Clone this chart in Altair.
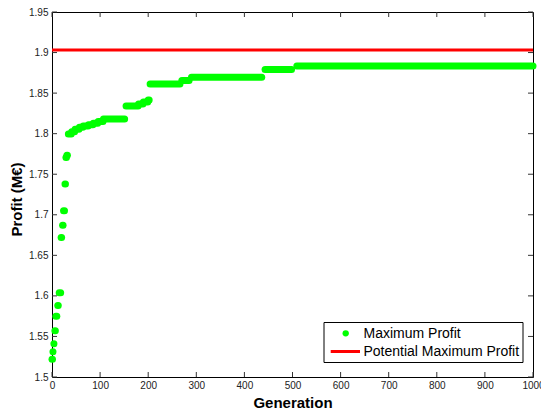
import altair as alt
import pandas as pd

# ---- data ----
# best-so-far profit, as runs of generations holding the same value
seg_start = [0, 2, 4, 6, 8, 12, 15, 19, 22, 24, 27, 29, 31,
             34, 41, 48, 57, 65, 76, 86, 96, 107,
             154, 180, 190, 200, 204, 270, 290, 443, 509]
seg_end = [1, 2, 4, 7, 10, 13, 18, 20, 23, 26, 28, 30, 32,
           40, 47, 56, 64, 75, 85, 95, 106, 151,
           179, 189, 199, 202, 266, 285, 436, 498, 1000]
seg_value = [1.522, 1.531, 1.541, 1.557, 1.575, 1.588, 1.604, 1.672, 1.687, 1.705, 1.738, 1.7705, 1.7735,
             1.7995, 1.8025, 1.8055, 1.808, 1.8095, 1.811, 1.8128, 1.815, 1.8181,
             1.8342, 1.8365, 1.839, 1.8416, 1.8613, 1.8654, 1.8695, 1.8792, 1.8835]

potential_max = 1.903
gen_range = [0, 1000]

x_ticks = [0, 100, 200, 300, 400, 500, 600, 700, 800, 900, 1000]
y_ticks = [1.5, 1.55, 1.6, 1.65, 1.7, 1.75, 1.8, 1.85, 1.9, 1.95]

legend_labels = ["Maximum Profit", "Potential Maximum Profit"]

FONT = "Liberation Sans, Arial, Helvetica, sans-serif"
W, H = 481, 365
GREEN = "#00FF00"
RED = "#FF0000"

xscale = alt.Scale(domain=gen_range, nice=False, zero=False)
yscale = alt.Scale(domain=[y_ticks[0], y_ticks[-1]], nice=False, zero=False)

xaxis = alt.Axis(values=x_ticks, ticks=False, tickSize=0, domain=False, grid=False,
                 format="d",
                 labelFont=FONT, labelFontSize=10, labelColor="#222", labelPadding=3,
                 labelFlush=False, labelOverlap=False,
                 titleFont=FONT, titleFontSize=15, titleFontWeight="bold", titleColor="#000",
                 titleY=30, titleBaseline="alphabetic")
yaxis = alt.Axis(values=y_ticks, ticks=False, tickSize=0, domain=False, grid=False,
                 format="~g",
                 labelFont=FONT, labelFontSize=10, labelColor="#222", labelPadding=4,
                 labelFlush=False, labelOverlap=False,
                 titleFont=FONT, titleFontSize=15, titleFontWeight="bold", titleColor="#000",
                 titleX=-31, titleY=187, titleBaseline="alphabetic", titleAngle=-90)

x_enc = alt.X("gen:Q", scale=xscale, axis=xaxis, title="Generation")
y_enc = alt.Y("val:Q", scale=yscale, axis=yaxis, title="Profit (M€)")

seg_df = pd.DataFrame({"gen": seg_start, "gen2": seg_end, "val": seg_value})
pot_df = pd.DataFrame({"gen": [gen_range[0]], "gen2": [gen_range[1]], "val": [potential_max]})
xt_df = pd.DataFrame({"gen": x_ticks})
yt_df = pd.DataFrame({"val": y_ticks})
one = pd.DataFrame({"k": [0]})

profit = alt.Chart(seg_df).mark_rule(strokeWidth=7, strokeCap="round", color=GREEN).encode(
    x=x_enc, x2="gen2:Q", y=y_enc)

potential = alt.Chart(pot_df).mark_rule(strokeWidth=3, color=RED).encode(
    x=x_enc, x2="gen2:Q", y=y_enc)

tick_style = dict(color="#333", strokeWidth=1)
bt = alt.Chart(xt_df).mark_rule(**tick_style).encode(x=x_enc, y=alt.value(H), y2=alt.value(H - 5))
tt = alt.Chart(xt_df).mark_rule(**tick_style).encode(x=x_enc, y=alt.value(0), y2=alt.value(5))
lt = alt.Chart(yt_df).mark_rule(**tick_style).encode(y=y_enc, x=alt.value(0), x2=alt.value(5))
rt = alt.Chart(yt_df).mark_rule(**tick_style).encode(y=y_enc, x=alt.value(W), x2=alt.value(W - 5))

# legend box
leg_box = alt.Chart(one).mark_rect(fill="white", stroke="black", strokeWidth=1).encode(
    x=alt.value(272), x2=alt.value(471), y=alt.value(310.5), y2=alt.value(350.5))
leg_dot = alt.Chart(one).mark_circle(size=40, color=GREEN, opacity=1).encode(
    x=alt.value(293.7), y=alt.value(321.3))
leg_line = alt.Chart(one).mark_rule(strokeWidth=3, color=RED).encode(
    x=alt.value(278.7), x2=alt.value(308), y=alt.value(339.5))
leg_t1 = alt.Chart(pd.DataFrame({"label": [legend_labels[0]]})).mark_text(
    align="left", baseline="middle", font=FONT, fontSize=14, color="black").encode(
    x=alt.value(311.5), y=alt.value(321.5), text="label:N")
leg_t2 = alt.Chart(pd.DataFrame({"label": [legend_labels[1]]})).mark_text(
    align="left", baseline="middle", font=FONT, fontSize=14, color="black").encode(
    x=alt.value(311.5), y=alt.value(339.5), text="label:N")

chart = alt.layer(
    profit, potential, bt, tt, lt, rt, leg_box, leg_dot, leg_line, leg_t1, leg_t2
).properties(
    width=W, height=H,
    autosize=alt.AutoSizeParams(type="none"),
    padding={"left": 52, "top": 12, "right": 8, "bottom": 35},
    background="white",
).configure_view(stroke="black", strokeWidth=1)

chart.save("out.html", embed_options={"renderer": "svg", "actions": False})
